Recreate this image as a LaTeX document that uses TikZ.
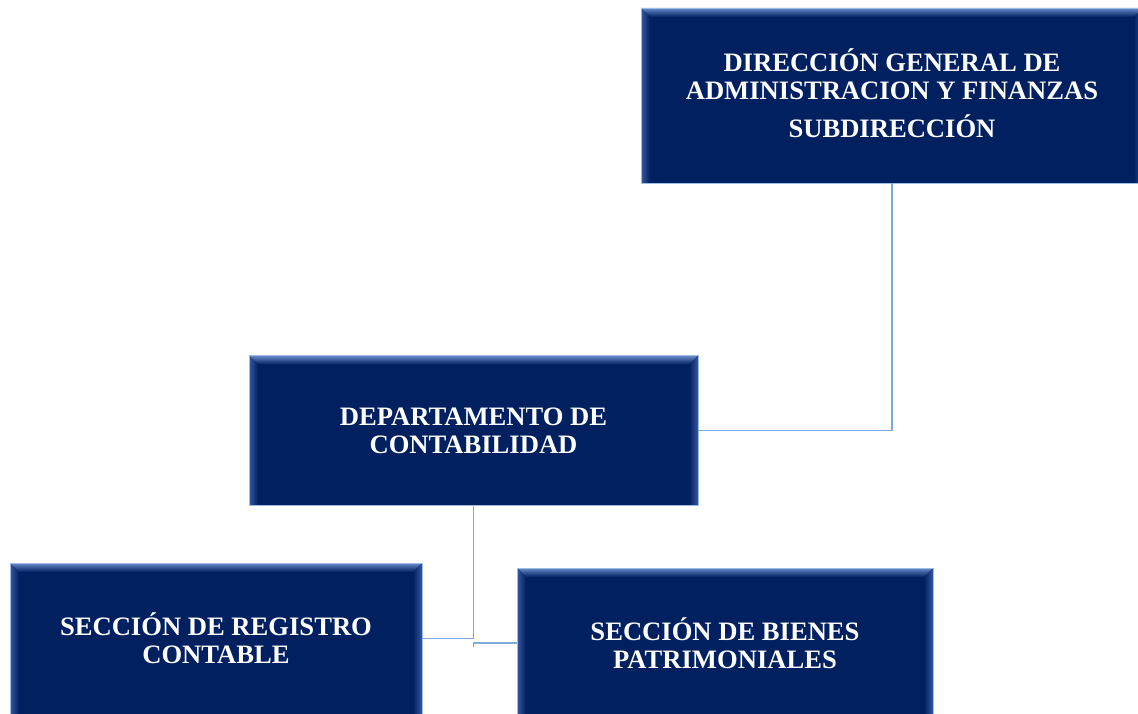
\documentclass[tikz,border=0pt]{standalone}
\usepackage{fontspec}
\setmainfont{Liberation Serif}
\usetikzlibrary{calc}
\definecolor{navy}{HTML}{002060}
\definecolor{bevlight}{HTML}{6A8CCB}
\definecolor{bevmid}{HTML}{3558A0}
\definecolor{edgeblue}{HTML}{9DBDE6}
\definecolor{connblue}{HTML}{7FAADF}
\tikzset{
  orgbox/.style={draw=edgeblue, line width=0.8pt, fill=navy, text=white,
    font=\bfseries\fontsize{26.6}{28}\selectfont, align=center, inner sep=0pt,
    path picture={
      \coordinate (bnw) at (path picture bounding box.north west);
      \coordinate (bne) at (path picture bounding box.north east);
      \coordinate (bsw) at (path picture bounding box.south west);
      \coordinate (bse) at (path picture bounding box.south east);
      \shade[top color=bevlight, bottom color=navy]
        (bnw) -- (bne) -- ($(bne)+(-9pt,-9pt)$) -- ($(bnw)+(9pt,-9pt)$) -- cycle;
      \shade[left color=bevmid, right color=navy]
        (bnw) -- ($(bnw)+(9pt,-9pt)$) -- ($(bsw)+(9pt,0pt)$) -- (bsw) -- cycle;
      \shade[right color=bevmid, left color=navy]
        (bne) -- ($(bne)+(-9pt,-9pt)$) -- ($(bse)+(-9pt,0pt)$) -- (bse) -- cycle;
    }},
  conn/.style={draw=connblue, line width=1.2pt}
}
\begin{document}
\begin{tikzpicture}[x=1pt,y=-1pt]
\useasboundingbox (0,0) rectangle (1138,714);
\fill[white] (0,0) rectangle (1138,714);
\node[orgbox, minimum width=502pt, minimum height=175pt] (top) at (892,95.5) {};
\node[text=white, font=\bfseries\fontsize{26.6}{28}\selectfont, align=center,
  inner sep=0pt] (toptext) at (892,93.5)
  {DIRECCIÓN GENERAL DE\\ADMINISTRACION Y FINANZAS\\[10pt]SUBDIRECCIÓN};
\node[orgbox, minimum width=449pt, minimum height=150pt] (dept) at (473.5,430.5)
  {DEPARTAMENTO DE\\CONTABILIDAD};
\node[orgbox, minimum width=412pt, minimum height=151pt] (reg) at (216,638.5)
  {SECCIÓN DE REGISTRO\\CONTABLE};
\node[orgbox, minimum width=416pt, minimum height=150pt] (bien) at (725,643)
  {SECCIÓN DE BIENES\\PATRIMONIALES};
\draw[conn] (top.south) |- (dept.east);
\draw[conn] (dept.south) |- (reg.east);
\draw[conn] (bien.west) -- (bien.west -| dept.south) -- ++(0,-4pt);
\end{tikzpicture}
\end{document}
